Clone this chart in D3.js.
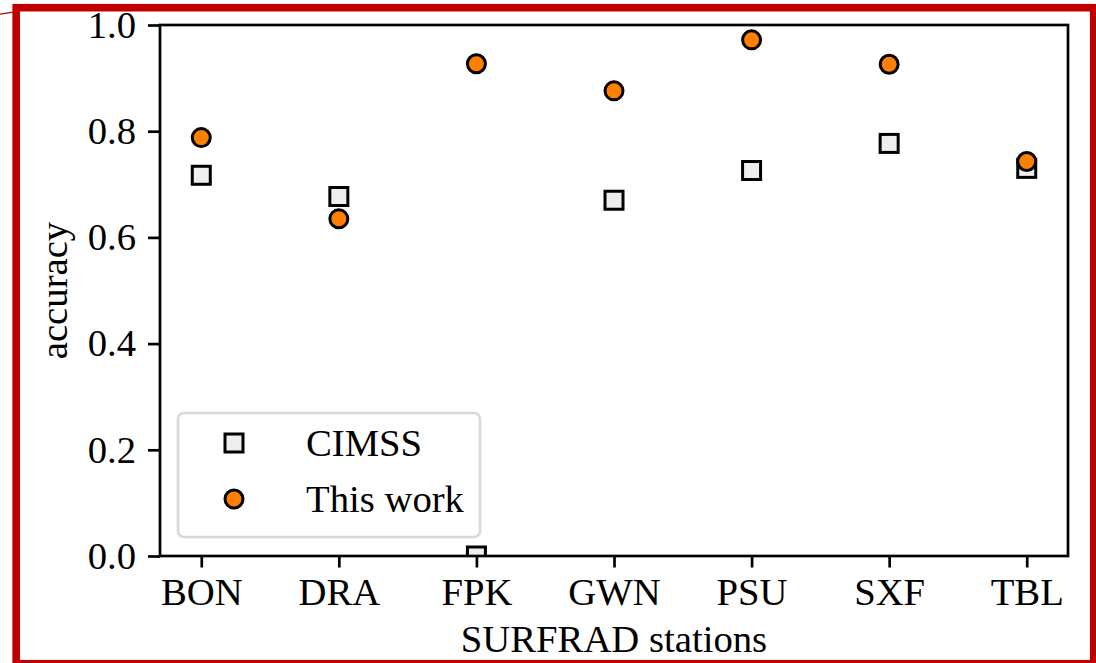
<!DOCTYPE html>
<html>
<head>
<meta charset="utf-8">
<script src="https://cdn.jsdelivr.net/npm/d3@7"></script>
<style>
  html, body { margin: 0; padding: 0; background: #fff; }
  svg { display: block; }
  text { font-family: "Liberation Serif", "Times New Roman", serif; fill: #000; }
</style>
</head>
<body>
<div id="chart"></div>
<script>
// station names along the x axis
const stations = ["BON", "DRA", "FPK", "GWN", "PSU", "SXF", "TBL"];
// accuracy per station
const cimssValues = [0.717, 0.677, 0.0, 0.670, 0.726, 0.777, 0.730];
const thisWorkValues = [0.788, 0.635, 0.927, 0.876, 0.972, 0.926, 0.743];
const yTicks = [0.0, 0.2, 0.4, 0.6, 0.8, 1.0];
const legendLabels = ["CIMSS", "This work"];

const W = 1096, H = 663;
const margin = { top: 25, right: 28, bottom: 107, left: 160 };
const plotW = W - margin.left - margin.right;   // 908
const plotH = H - margin.top - margin.bottom;   // 531
const fontSize = 38.7;

const svg = d3.select("#chart").append("svg")
  .attr("width", W)
  .attr("height", H);

// red frame around the whole picture
svg.append("rect")
  .attr("x", 16.2).attr("y", 7.7)
  .attr("width", 1077.5).attr("height", 656)
  .attr("fill", "none")
  .attr("stroke", "#c00000")
  .attr("stroke-width", 7.6);
svg.append("line")
  .attr("x1", 0).attr("y1", 14.2).attr("x2", 13).attr("y2", 12.2)
  .attr("stroke", "#c00000").attr("stroke-width", 1.2);

const x = d3.scalePoint()
  .domain(stations)
  .range([0, plotW])
  .padding(0.3);

const y = d3.scaleLinear()
  .domain([0, 1])
  .range([plotH, 0]);

const g = svg.append("g")
  .attr("transform", `translate(${margin.left},${margin.top})`);

g.append("clipPath").attr("id", "plotclip")
  .append("rect").attr("width", plotW).attr("height", plotH);

// axes
const xAxis = g.append("g")
  .attr("transform", `translate(0,${plotH})`)
  .call(d3.axisBottom(x).tickSize(11.5).tickPadding(10).tickSizeOuter(0));

const yAxis = g.append("g")
  .call(d3.axisLeft(y).tickValues(yTicks).tickFormat(d3.format(".1f"))
    .tickSize(12).tickPadding(12).tickSizeOuter(0));

[xAxis, yAxis].forEach(a => {
  a.select(".domain").remove();
  a.selectAll("line").attr("stroke", "#000").attr("stroke-width", 2.7);
  a.selectAll("text")
    .style("font-family", '"Liberation Serif", "Times New Roman", serif')
    .style("font-size", fontSize + "px")
    .attr("fill", "#000");
});

// markers
const marks = g.append("g").attr("clip-path", "url(#plotclip)");
const sq = 18, r = 9;

marks.selectAll(".cimss")
  .data(stations.map((s, i) => ({ s, v: cimssValues[i] })))
  .join("rect")
  .attr("class", "cimss")
  .attr("x", d => x(d.s) - sq / 2)
  .attr("y", d => y(d.v) - sq / 2)
  .attr("width", sq).attr("height", sq)
  .attr("fill", "#eeeeee")
  .attr("stroke", "#000")
  .attr("stroke-width", 3);

marks.selectAll(".ours")
  .data(stations.map((s, i) => ({ s, v: thisWorkValues[i] })))
  .join("circle")
  .attr("class", "ours")
  .attr("cx", d => x(d.s))
  .attr("cy", d => y(d.v))
  .attr("r", r)
  .attr("fill", "#ff8000")
  .attr("stroke", "#000")
  .attr("stroke-width", 3);

// spines
g.append("rect")
  .attr("width", plotW).attr("height", plotH)
  .attr("fill", "none")
  .attr("stroke", "#000")
  .attr("stroke-width", 2.7);

// axis titles
g.append("text")
  .attr("x", plotW / 2).attr("y", plotH + 96)
  .attr("text-anchor", "middle")
  .style("font-size", fontSize + "px")
  .text("SURFRAD stations");

g.append("text")
  .attr("transform", `translate(${67 - margin.left},${plotH / 2}) rotate(-90)`)
  .attr("text-anchor", "middle")
  .style("font-size", fontSize + "px")
  .text("accuracy");

// legend
const leg = g.append("g").attr("transform", "translate(18,388)");
leg.append("rect")
  .attr("width", 302).attr("height", 124)
  .attr("rx", 6).attr("ry", 6)
  .attr("fill", "#fff").attr("fill-opacity", 0.8)
  .attr("stroke", "#d9d9d9").attr("stroke-width", 2.7);

const rowY = [30, 86];
leg.append("rect")
  .attr("x", 56 - sq / 2).attr("y", rowY[0] - sq / 2)
  .attr("width", sq).attr("height", sq)
  .attr("fill", "#eeeeee").attr("stroke", "#000").attr("stroke-width", 3);
leg.append("circle")
  .attr("cx", 56).attr("cy", rowY[1]).attr("r", r)
  .attr("fill", "#ff8000").attr("stroke", "#000").attr("stroke-width", 3);

leg.selectAll(".lt")
  .data(legendLabels)
  .join("text")
  .attr("class", "lt")
  .attr("x", 128)
  .attr("y", (d, i) => rowY[i])
  .attr("dy", "0.33em")
  .style("font-size", fontSize + "px")
  .text(d => d);
</script>
</body>
</html>
